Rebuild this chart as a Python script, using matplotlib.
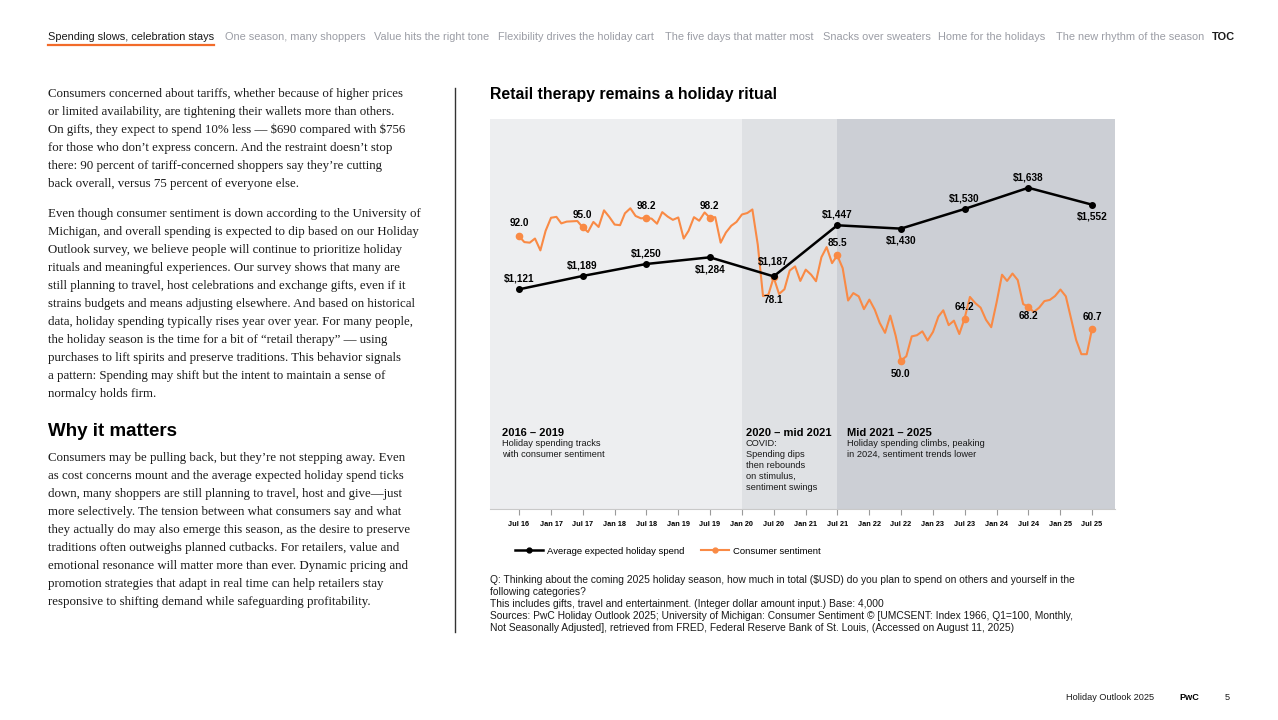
import numpy as np
import pandas as pd
import matplotlib
matplotlib.use('Agg')
import matplotlib.pyplot as plt
import matplotlib.lines as mlines

W, H = 1278, 720
SANS = ['Liberation Sans', 'DejaVu Sans']
SERIF = ['Liberation Serif', 'DejaVu Serif']
ORANGE = '#F98A45'
TEXT = '#1a1a1a'
NAV_GREY = '#9b9da5'

# ---- chart data ----
spend_dates = pd.to_datetime(['2016-07-01', '2017-07-01', '2018-07-01', '2019-07-01', '2020-07-01',
                              '2021-07-01', '2022-07-01', '2023-07-01', '2024-07-01', '2025-07-01'])
spend_values = [1121, 1189, 1250, 1284, 1187, 1447, 1430, 1530, 1638, 1552]

# consumer sentiment, monthly from Jul 16 to Jul 25 (as drawn)
sentiment_start = '2016-07-01'
sentiment = [
    92.0, 90.0, 89.8, 91.2, 87.2, 93.8, 98.2,
    98.5, 96.3, 96.9, 97.0, 97.1, 95.0, 93.4, 96.8, 95.1, 100.7, 98.5, 95.9,
    95.7, 99.7, 101.4, 98.8, 98.0, 98.2, 97.9, 96.2, 100.1, 98.6, 97.5, 98.3,
    91.2, 93.8, 98.4, 97.2, 100.0, 98.2, 98.4, 89.8, 93.2, 95.5, 96.8, 99.3,
    99.8, 101.0, 89.1, 71.8, 72.3, 78.1, 72.5, 74.1, 80.4, 81.8, 76.9, 80.7,
    79.0, 76.8, 84.9, 88.3, 82.9, 85.5, 81.2, 70.3, 72.8, 71.7, 67.4, 70.6,
    67.2, 62.8, 59.4, 65.2, 58.4, 50.0, 51.5, 58.2, 58.6, 59.9, 56.8, 59.7,
    64.9, 67.0, 62.0, 63.5, 59.0, 64.2, 71.5, 69.4, 67.9, 63.8, 61.3, 69.7,
    79.0, 76.9, 79.4, 77.2, 69.1, 68.2, 66.4, 67.9, 70.1, 70.5, 71.8, 74.0,
    71.7, 64.7, 57.0, 52.2, 52.2, 60.7,
]
sentiment_dates = pd.date_range(sentiment_start, periods=len(sentiment), freq='MS')

tick_dates = pd.date_range('2016-07-01', '2025-07-01', freq='6MS')
tick_labels = ['Jul 16', 'Jan 17', 'Jul 17', 'Jan 18', 'Jul 18', 'Jan 19', 'Jul 19', 'Jan 20', 'Jul 20',
               'Jan 21', 'Jul 21', 'Jan 22', 'Jul 22', 'Jan 23', 'Jul 23', 'Jan 24', 'Jul 24', 'Jan 25', 'Jul 25']

period_edges = pd.to_datetime(['2016-01-17', '2020-01-01', '2021-07-01', '2025-11-10'])
period_titles = ['2016 – 2019', '2020 – mid 2021', 'Mid 2021 – 2025']
period_notes = ['Holiday spending tracks\nwith consumer sentiment',
                'COVID:\nSpending dips\nthen rebounds\non stimulus,\nsentiment swings',
                'Holiday spending climbs, peaking\nin 2024, sentiment trends lower']

# label offsets in points (layout only; negative = below the point)
spend_offset = [4, 4, 4, -5, 7, 4, -5, 4, 4, -5]
sent_offset = [6, 5, 5, 5, -13, 5, -6, 5, -3, 5]
period_colors = ['#edeef0', '#dfe1e4', '#cccfd5']
period_text_x = [502, 746, 847]

nav_items = ['Spending slows, celebration stays', 'One season, many shoppers', 'Value hits the right tone',
             'Flexibility drives the holiday cart', 'The five days that matter most', 'Snacks over sweaters',
             'Home for the holidays', 'The new rhythm of the season', 'TOC']
nav_x = [48, 225, 374, 498, 665, 823, 938, 1056, 1212]

para1 = ['Consumers concerned about tariffs, whether because of higher prices',
         'or limited availability, are tightening their wallets more than others.',
         'On gifts, they expect to spend 10% less — \\$690 compared with \\$756',
         'for those who don’t express concern. And the restraint doesn’t stop',
         'there: 90 percent of tariff-concerned shoppers say they’re cutting',
         'back overall, versus 75 percent of everyone else.']
para2 = ['Even though consumer sentiment is down according to the University of',
         'Michigan, and overall spending is expected to dip based on our Holiday',
         'Outlook survey, we believe people will continue to prioritize holiday',
         'rituals and meaningful experiences. Our survey shows that many are',
         'still planning to travel, host celebrations and exchange gifts, even if it',
         'strains budgets and means adjusting elsewhere. And based on historical',
         'data, holiday spending typically rises year over year. For many people,',
         'the holiday season is the time for a bit of “retail therapy” — using',
         'purchases to lift spirits and preserve traditions. This behavior signals',
         'a pattern: Spending may shift but the intent to maintain a sense of',
         'normalcy holds firm.']
para3 = ['Consumers may be pulling back, but they’re not stepping away. Even',
         'as cost concerns mount and the average expected holiday spend ticks',
         'down, many shoppers are still planning to travel, host and give—just',
         'more selectively. The tension between what consumers say and what',
         'they actually do may also emerge this season, as the desire to preserve',
         'traditions often outweighs planned cutbacks. For retailers, value and',
         'emotional resonance will matter more than ever. Dynamic pricing and',
         'promotion strategies that adapt in real time can help retailers stay',
         'responsive to shifting demand while safeguarding profitability.']

footnote = ['Q: Thinking about the coming 2025 holiday season, how much in total (\\$USD) do you plan to spend on others and yourself in the',
            'following categories?',
            'This includes gifts, travel and entertainment. (Integer dollar amount input.) Base: 4,000',
            'Sources: PwC Holiday Outlook 2025; University of Michigan: Consumer Sentiment © [UMCSENT: Index 1966, Q1=100, Monthly,',
            'Not Seasonally Adjusted], retrieved from FRED, Federal Reserve Bank of St. Louis, (Accessed on August 11, 2025)']


def fx(x):
    return x / W


def fy(y):
    return 1 - y / H


plt.rcParams['font.family'] = SANS
fig = plt.figure(figsize=(W / 100, H / 100), dpi=100)
fig.patch.set_facecolor('white')

# ---- navigation bar ----
for i, (label, x) in enumerate(zip(nav_items, nav_x)):
    color = TEXT if i in (0, len(nav_items) - 1) else NAV_GREY
    weight = 'bold' if i == len(nav_items) - 1 else 'normal'
    fig.text(fx(x), fy(37.5), label, fontsize=7.95, color=color, weight=weight, va='center', ha='left')
fig.add_artist(mlines.Line2D([fx(48), fx(214)], [fy(45), fy(45)], color='#f26b2a', lw=1.6))

# ---- left column ----
for k, line in enumerate(para1):
    fig.text(fx(48), fy(94 + 18 * k), line, fontsize=9.3, family=SERIF, color=TEXT, va='center')
for k, line in enumerate(para2):
    fig.text(fx(48), fy(214 + 18 * k), line, fontsize=9.3, family=SERIF, color=TEXT, va='center')
fig.text(fx(48), fy(432), 'Why it matters', fontsize=13.5, weight='bold', color='black', va='center')
for k, line in enumerate(para3):
    fig.text(fx(48), fy(458 + 18 * k), line, fontsize=9.3, family=SERIF, color=TEXT, va='center')

fig.add_artist(mlines.Line2D([fx(455), fx(455)], [fy(88), fy(632)], color='#333333', lw=1))

# ---- chart ----
fig.text(fx(490), fy(95), 'Retail therapy remains a holiday ritual', fontsize=11.4, weight='bold',
         color='black', va='center')

ax = fig.add_axes([fx(490), fy(509), fx(1115) - fx(490), (509 - 119) / H])
ax.set_xlim(period_edges[0], period_edges[-1])
ax.set_ylim(0, 131.5)
for i in range(3):
    ax.axvspan(period_edges[i], period_edges[i + 1], color=period_colors[i], lw=0, zorder=0)

ax.plot(sentiment_dates, sentiment, color=ORANGE, lw=1.5, zorder=3)
mark_idx = list(range(0, len(sentiment), 12))
ax.plot(sentiment_dates[mark_idx], [sentiment[i] for i in mark_idx], 'o', color=ORANGE, ms=4.5, zorder=4)
for j, i in enumerate(mark_idx):
    off = sent_offset[j]
    ax.annotate(f'{sentiment[i]:.1f}', (sentiment_dates[i], sentiment[i]), xytext=(0, off),
                textcoords='offset points', ha='center', va='bottom' if off > 0 else 'top',
                fontsize=7.2, weight='bold', color='black', zorder=6)

ax2 = ax.twinx()
ax2.set_ylim(3, 1988)
ax2.plot(spend_dates, spend_values, color='black', lw=1.8, marker='o', ms=4, zorder=5)
for v, d, off in zip(spend_values, spend_dates, spend_offset):
    ax2.annotate(f'\\${v:,}', (d, v), xytext=(0, off), textcoords='offset points',
                 ha='center', va='bottom' if off > 0 else 'top', fontsize=7.2, weight='bold', color='black')

for a in (ax, ax2):
    for s in ('top', 'left', 'right'):
        a.spines[s].set_visible(False)
    a.spines['bottom'].set_color('#c9c9c9')
    a.set_yticks([])
ax2.spines['bottom'].set_visible(False)
ax.set_xticks(tick_dates)
ax.set_xticklabels(tick_labels, fontsize=5.3, weight='bold')
ax.tick_params(axis='x', length=4, width=0.8, color='#9a9a9a', pad=4.5)

# period annotations
for title, note, x in zip(period_titles, period_notes, period_text_x):
    fig.text(fx(x), fy(433), title, fontsize=8.0, weight='bold', color='black', va='center')
    fig.text(fx(x), fy(439), note, fontsize=6.7, color=TEXT, va='top', linespacing=1.3)

# legend
handles = [mlines.Line2D([], [], color='black', lw=1.8, marker='o', ms=3.5, label='Average expected holiday spend'),
           mlines.Line2D([], [], color=ORANGE, lw=1.5, marker='o', ms=3.5, label='Consumer sentiment')]
fig.legend(handles=handles, loc='center left', bbox_to_anchor=(fx(506), fy(551)), ncol=2, frameon=False,
           fontsize=6.8, handlelength=3.0, handletextpad=0.4, columnspacing=1.8)

# footnote
for k, line in enumerate(footnote):
    fig.text(fx(490), fy(580 + 12 * k), line, fontsize=7.4, color=TEXT, va='center')

# footer
fig.text(fx(1066), fy(697), 'Holiday Outlook 2025', fontsize=6.6, color=TEXT, va='center')
fig.text(fx(1179), fy(697), 'PwC', fontsize=6.6, weight='bold', color='black', va='center')
fig.text(fx(1225), fy(697), '5', fontsize=6.6, color=TEXT, va='center')

fig.savefig('out.png', dpi=100)
